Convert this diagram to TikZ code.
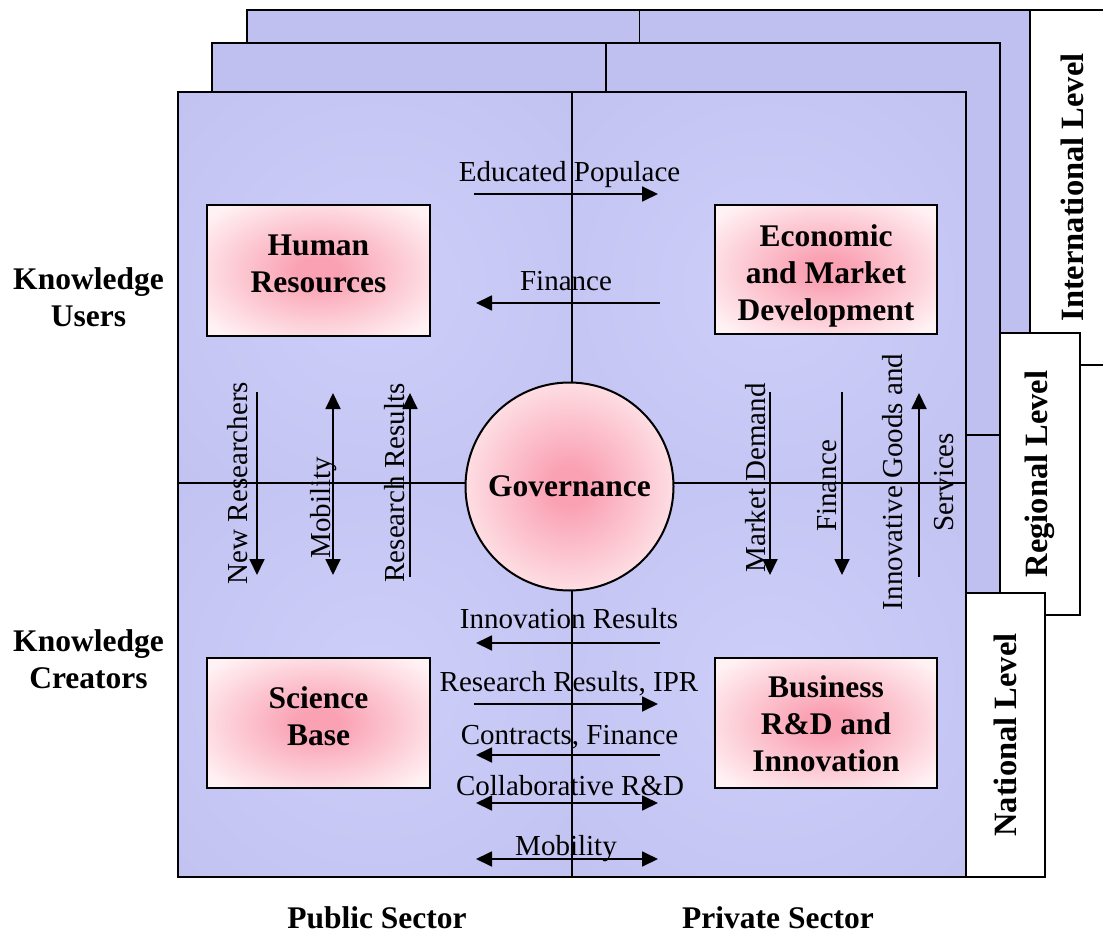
\documentclass[tikz,border=0pt]{standalone}
\usepackage{fontspec}
\setmainfont{Liberation Serif}
\usetikzlibrary{arrows.meta}
\definecolor{panelfill}{RGB}{192,192,240}
\definecolor{panelin}{RGB}{206,206,250}
\definecolor{panelout}{RGB}{190,190,238}
\definecolor{pinkc}{RGB}{250,162,180}
\definecolor{pinkout}{RGB}{255,242,244}
\pgfdeclareradialshading{pinkglow}{\pgfpoint{0bp}{0bp}}{color(0bp)=(pinkc); color(5bp)=(pinkc); color(32bp)=(pinkout); color(50bp)=(pinkout)}
\pgfdeclareradialshading{panelglow}{\pgfpoint{0bp}{0bp}}{color(0bp)=(panelin); color(50bp)=(panelout)}
\newcommand\dgBold{\fontsize{31.5pt}{37pt}\selectfont\bfseries}
\newcommand\dgBoldK{\fontsize{31.5pt}{37.5pt}\selectfont\bfseries}
\newcommand\dgLvl{\fontsize{32.5pt}{38pt}\selectfont\bfseries}
\newcommand\dgFlow{\fontsize{29pt}{34pt}\selectfont}
\newcommand\dgFlowWide{\fontsize{29pt}{51pt}\selectfont}
\tikzset{
  panel/.style={draw=black, line width=2pt, fill=panelfill},
  divider/.style={draw=black, line width=1.8pt},
  lvlbox/.style={draw=black, line width=2pt, fill=white, rotate=90, inner sep=0pt, font=\dgLvl},
  pbox/.style={draw=black, line width=2pt, shade, shading=pinkglow, inner sep=0pt, minimum width=223pt, minimum height=131pt},
  btext/.style={font=\dgBold, align=center, inner sep=0pt},
  ftext/.style={font=\dgFlow, inner sep=0pt, anchor=base},
  vtext/.style={ftext, rotate=90},
  arr/.style={line width=1.8pt, -{Triangle[length=16pt,width=15pt]}},
  darr/.style={line width=1.8pt, {Triangle[length=16pt,width=15pt]}-{Triangle[length=16pt,width=15pt]}},
}
\begin{document}
\begin{tikzpicture}[x=1pt,y=-1pt]
\clip (0,0) rectangle (1103,933);
% ---------- International level ----------
\draw[panel] (247,10) rectangle (1030,795);
\draw[divider] (639.5,10) -- (639.5,795);
\draw[divider] (247,402) -- (1030,402);
\node[lvlbox, minimum width=355pt, minimum height=84pt] (intl) at (1072,187.5) {International Level};
% ---------- Regional level ----------
\draw[panel] (212,43) rectangle (1000,828);
\draw[divider] (606,43) -- (606,828);
\draw[divider] (212,435) -- (1000,435);
\node[lvlbox, minimum width=282pt, minimum height=80pt] (reg) at (1040,474) {Regional Level};
% ---------- National level ----------
\shade[shading=panelglow] (178,92) rectangle (572,483);
\shade[shading=panelglow] (572,92) rectangle (966,483);
\shade[shading=panelglow] (178,483) rectangle (572,877);
\shade[shading=panelglow] (572,483) rectangle (966,877);
\draw[line width=2pt] (178,92) rectangle (966,877);
\draw[divider] (572,92) -- (572,877);
\draw[divider] (178,483) -- (966,483);
\node[lvlbox, minimum width=284pt, minimum height=79pt] (nat) at (1005.5,735) {National Level};

% ---------- Boxes ----------
\node[pbox, label={[btext,yshift=6.8pt]center:Human\\Resources}] (hr) at (318.5,270.5) {};
\node[pbox, minimum width=222pt, minimum height=129pt, label={[btext,yshift=-6.1pt]center:Economic\\and Market\\Development}] (emd) at (826,269.5) {};
\node[pbox, minimum height=130pt, label={[btext,yshift=6.3pt]center:Science\\Base}] (sb) at (318.5,723) {};
\node[pbox, minimum width=222pt, minimum height=130pt, label={[btext,yshift=-1.2pt]center:Business\\R\&D and\\Innovation}] (brd) at (826,723) {};
\node[circle, draw=black, line width=2pt, shade, shading=pinkglow, minimum size=208pt, inner sep=0pt, font=\dgBold] (gov) at (569.5,486.5) {Governance};

% ---------- Side and bottom labels ----------
\node[btext, font=\dgBoldK] (ku) at (88.5,297) {Knowledge\\Users};
\node[btext, font=\dgBoldK] (kc) at (88.5,659) {Knowledge\\Creators};
\node[font=\dgBold, inner sep=0pt, anchor=base] (pub) at (377,928) {Public Sector};
\node[font=\dgBold, inner sep=0pt, anchor=base] (priv) at (778,928) {Private Sector};

% ---------- Horizontal flows ----------
\coordinate (ep1) at (474,194); \coordinate (ep2) at (658,194);
\draw[arr] (ep1) -- (ep2);
\node[ftext] (tep) at (569.5,182) {Educated Populace};

\coordinate (fa1) at (660,303); \coordinate (fa2) at (476,303);
\draw[arr] (fa1) -- (fa2);
\node[ftext] (tfa) at (566,291) {Finance};

\coordinate (ir1) at (660,643); \coordinate (ir2) at (476,643);
\draw[arr] (ir1) -- (ir2);
\node[ftext] (tir) at (569,628) {Innovation Results};

\coordinate (rr1) at (474,704); \coordinate (rr2) at (658,704);
\draw[arr] (rr1) -- (rr2);
\node[ftext] (trr) at (569,691) {Research Results, IPR};

\coordinate (cf1) at (660,755); \coordinate (cf2) at (476,755);
\draw[arr] (cf1) -- (cf2);
\node[ftext] (tcf) at (569.5,744) {Contracts, Finance};

\coordinate (cr1) at (476,803); \coordinate (cr2) at (658,803);
\draw[darr] (cr1) -- (cr2);
\node[ftext] (tcr) at (570,795) {Collaborative R\&D};

\coordinate (mb1) at (476,859); \coordinate (mb2) at (658,859);
\draw[darr] (mb1) -- (mb2);
\node[ftext] (tmb) at (566,855) {Mobility};

% ---------- Vertical flows, public side ----------
\coordinate (nr1) at (257,392); \coordinate (nr2) at (257,575);
\draw[arr] (nr1) -- (nr2);
\node[vtext] (tnr) at (247,483) {New Researchers};

\coordinate (ml1) at (333,393); \coordinate (ml2) at (333,575);
\draw[darr] (ml1) -- (ml2);
\node[vtext] (tml) at (330,508) {Mobility};

\coordinate (rv1) at (410,577); \coordinate (rv2) at (410,393);
\draw[arr] (rv1) -- (rv2);
\node[vtext] (trv) at (404,483) {Research Results};

% ---------- Vertical flows, private side ----------
\coordinate (md1) at (770,392); \coordinate (md2) at (770,575);
\draw[arr] (md1) -- (md2);
\node[vtext] (tmd) at (765,478) {Market Demand};

\coordinate (fv1) at (842,392); \coordinate (fv2) at (842,575);
\draw[arr] (fv1) -- (fv2);
\node[vtext] (tfv) at (836,486) {Finance};

\coordinate (ig1) at (919,577); \coordinate (ig2) at (919,393);
\draw[arr] (ig1) -- (ig2);
\node[font=\dgFlowWide, align=center, inner sep=0pt, rotate=90] (tig) at (918.5,482) {Innovative Goods and\\Services};
\end{tikzpicture}
\end{document}
